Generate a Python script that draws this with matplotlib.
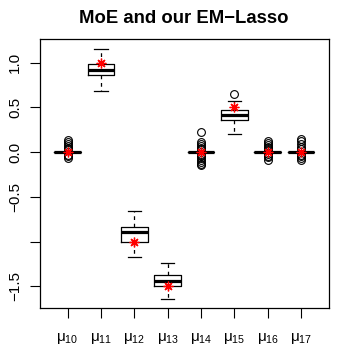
import matplotlib
matplotlib.use('Agg')
import matplotlib.pyplot as plt

plt.rcParams['font.family'] = ['Liberation Sans', 'DejaVu Sans']
plt.rcParams['mathtext.fontset'] = 'custom'
plt.rcParams['mathtext.rm'] = 'Liberation Sans'
plt.rcParams['mathtext.it'] = 'Liberation Sans'

# parameter names and true values (red stars)
labels = ['10', '11', '12', '13', '14', '15', '16', '17']
truth = [0.0, 1.0, -1.0, -1.5, 0.0, 0.5, 0.0, 0.0]

# box statistics
whislo = [0.0, 0.683, -1.175, -1.641, 0.0, 0.206, 0.0, 0.0]
q1 = [0.0, 0.858, -1.007, -1.492, 0.0, 0.363, 0.0, 0.0]
med = [0.0, 0.914, -0.899, -1.436, 0.0, 0.414, 0.0, 0.0]
q3 = [0.0, 0.989, -0.839, -1.372, 0.0, 0.474, 0.0, 0.0]
whishi = [0.0, 1.149, -0.664, -1.238, 0.0, 0.571, 0.0, 0.0]
fliers = [
    [0.13, 0.11, 0.09, 0.07, 0.05, 0.03, -0.03, -0.05, -0.067],
    [],
    [],
    [],
    [0.22, 0.11, 0.09, 0.07, 0.05, 0.03, -0.03, -0.05, -0.07, -0.09, -0.11, -0.13, -0.15],
    [0.646],
    [0.12, 0.10, 0.08, 0.06, 0.04, 0.02, -0.02, -0.04, -0.06, -0.087],
    [0.15, 0.12, 0.09, 0.06, 0.03, -0.03, -0.05, -0.07, -0.087],
]

stats = []
for i in range(len(labels)):
    stats.append(dict(med=med[i], q1=q1[i], q3=q3[i], whislo=whislo[i],
                      whishi=whishi[i], fliers=fliers[i]))

fig = plt.figure(figsize=(3.49, 3.49), dpi=100)
ax = fig.add_axes([0.1146, 0.1175, 0.8281, 0.7708])

pos = list(range(1, len(labels) + 1))
ax.bxp(stats, positions=pos, widths=0.8, capwidths=0.4,
       boxprops=dict(color='black', lw=0.9),
       medianprops=dict(color='black', lw=2.3, solid_capstyle='butt'),
       whiskerprops=dict(color='black', lw=0.9, linestyle=(0, (3, 3))),
       capprops=dict(color='black', lw=0.9),
       flierprops=dict(marker='o', markerfacecolor='none', markeredgecolor='black',
                       markersize=5.6, markeredgewidth=0.8))
ax.plot(pos, truth, linestyle='none', marker=(8, 2, 0), color='red',
        markersize=7, markeredgewidth=0.95, zorder=5)

ax.set_xlim(0.17, 8.84)
ax.set_ylim(-1.743, 1.263)
ax.set_xticks(pos)
ax.set_xticklabels(['μ$_{%s}$' % s for s in labels], fontsize=11)
yt = [-1.5, -1.0, -0.5, 0.0, 0.5, 1.0]
ax.set_yticks(yt)
ax.set_yticklabels(['\u22121.5', '', '\u22120.5', '0.0', '0.5', '1.0'], fontsize=11,
                   rotation=90, va='center')
ax.tick_params(axis='both', direction='out', length=7, width=0.8)
ax.tick_params(axis='x', pad=9.5)
ax.tick_params(axis='y', pad=6)
for sp in ax.spines.values():
    sp.set_linewidth(0.9)

fig.text(0.527, 0.946, 'MoE and our EM\u2212Lasso', ha='center', va='center',
         fontsize=13.3, fontweight='bold')

fig.savefig('out.png', dpi=100)
